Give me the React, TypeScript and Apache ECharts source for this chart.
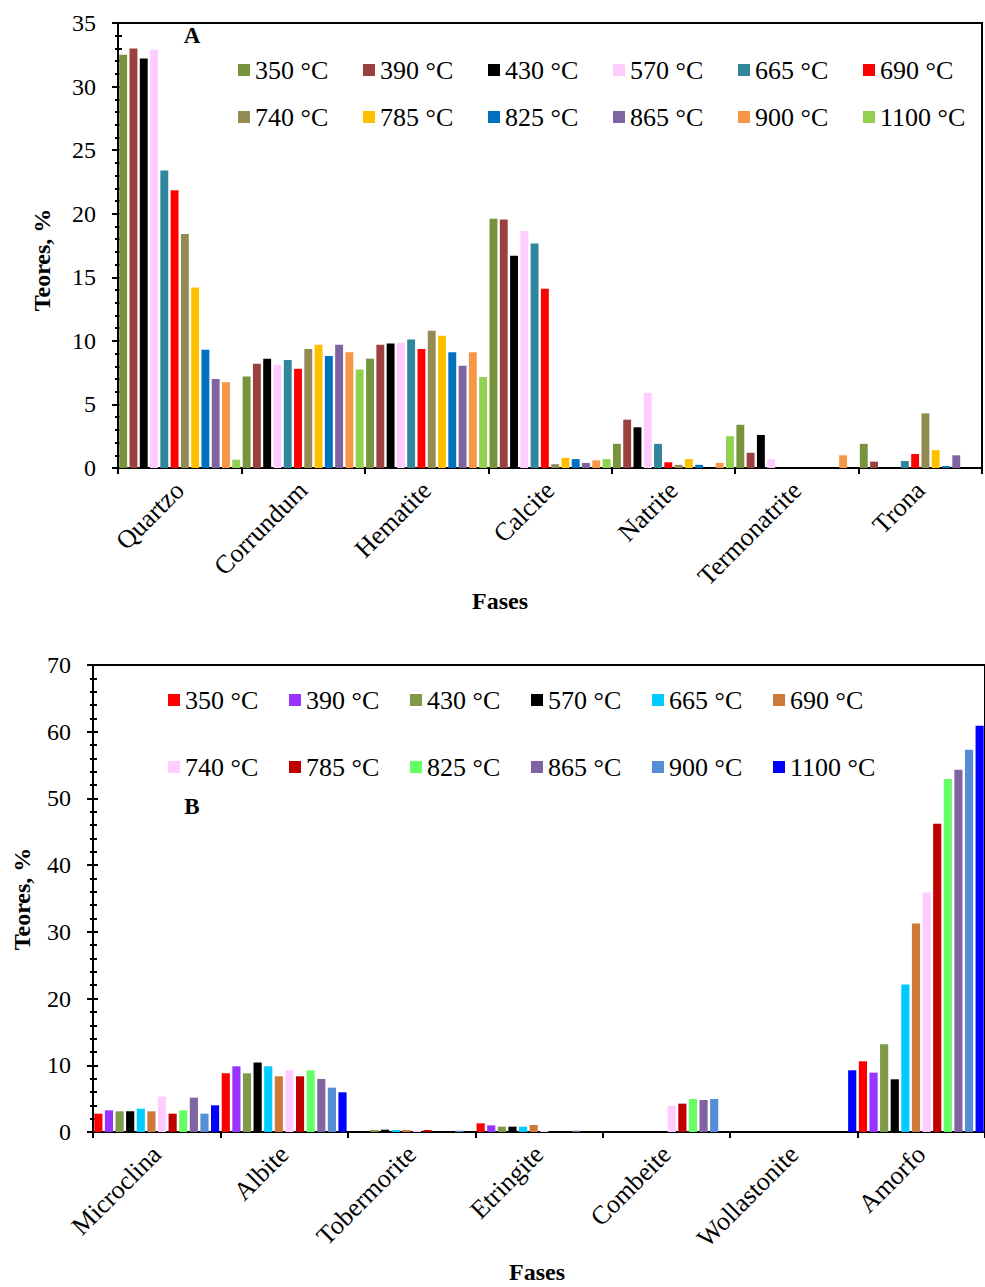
import React, { useEffect, useRef } from "react";
import * as echarts from "echarts";

// ---------- Chart A data ----------
const categoriesA = ["Quartzo", "Corrundum", "Hematite", "Calcite", "Natrite", "Termonatrite", "Trona"];
const seriesNamesA = ["350 °C", "390 °C", "430 °C", "570 °C", "665 °C", "690 °C", "740 °C", "785 °C", "825 °C", "865 °C", "900 °C", "1100 °C"];
const colorsA = ["#77933C", "#9B403E", "#000000", "#FFCCFF", "#31859C", "#FF0000", "#948A54", "#FFC000", "#0070C0", "#8064A2", "#F79646", "#92D050"];
const a350 = [32.5, 7.2, 8.6, 19.6, 1.9, 3.4, 1.9];
const a390 = [33.0, 8.2, 9.7, 19.55, 3.8, 1.2, 0.5];
const a430 = [32.2, 8.6, 9.8, 16.7, 3.2, 2.6, 0];
const a570 = [32.9, 8.1, 9.85, 18.65, 5.9, 0.7, 0];
const a665 = [23.4, 8.5, 10.1, 17.65, 1.9, 0, 0.55];
const a690 = [21.85, 7.8, 9.35, 14.1, 0.45, 0, 1.1];
const a740 = [18.4, 9.35, 10.8, 0.3, 0.25, 0, 4.3];
const a785 = [14.2, 9.7, 10.4, 0.8, 0.7, 0, 1.4];
const a825 = [9.3, 8.8, 9.1, 0.7, 0.25, 0, 0.15];
const a865 = [7.0, 9.7, 8.05, 0.4, 0, 0, 1.0];
const a900 = [6.75, 9.1, 9.1, 0.6, 0.4, 1.0, 0];
const a1100 = [0.65, 7.75, 7.15, 0.7, 2.5, 0, 0];
const valuesA = [a350, a390, a430, a570, a665, a690, a740, a785, a825, a865, a900, a1100];

// ---------- Chart B data ----------
const categoriesB = ["Microclina", "Albite", "Tobermorite", "Etringite", "Combeite", "Wollastonite", "Amorfo"];
const seriesNamesB = ["350 °C", "390 °C", "430 °C", "570 °C", "665 °C", "690 °C", "740 °C", "785 °C", "825 °C", "865 °C", "900 °C", "1100 °C"];
const colorsB = ["#FF0000", "#9933FF", "#7F9A48", "#000000", "#00CCFF", "#CC7A3A", "#FFCCFF", "#C00000", "#66FF66", "#8064A2", "#558ED5", "#0000FF"];
const b350 = [2.75, 8.8, 0, 1.3, 0, 0, 10.6];
const b390 = [3.25, 9.85, 0, 1.0, 0, 0, 8.9];
const b430 = [3.1, 8.8, 0.3, 0.8, 0, 0, 13.15];
const b570 = [3.1, 10.4, 0.35, 0.8, 0, 0, 7.9];
const b665 = [3.5, 9.85, 0.3, 0.8, 0, 0, 22.1];
const b690 = [3.1, 8.35, 0.3, 1.05, 0, 0, 31.25];
const b740 = [5.3, 9.25, 0.2, 0.2, 3.9, 0, 35.9];
const b785 = [2.75, 8.35, 0.3, 0, 4.25, 0, 46.2];
const b825 = [3.25, 9.25, 0, 0, 4.95, 0, 52.9];
const b865 = [5.15, 7.95, 0, 0.2, 4.8, 0, 54.3];
const b900 = [2.75, 6.65, 0.2, 0, 4.95, 0, 57.3];
const b1100 = [4.0, 5.95, 0, 0, 0, 9.25, 60.9];
const valuesB = [b350, b390, b430, b570, b665, b690, b740, b785, b825, b865, b900, b1100];

const FONT = '"Liberation Serif", "Times New Roman", serif';

function buildOption(cfg: {
  categories: string[];
  names: string[];
  colors: string[];
  values: number[][];
  grid: any;
  yMax: number;
  yInterval: number;
  legendLeft: number;
  legendTops: number[];
  textW: number;
  letter: string;
  letterPos: number[];
  yNamePos: number[];
  xNamePos: number[];
}) {
  const axisLineStyle = { color: "#000", width: 2 };
  const yCommon = {
    type: "value",
    min: 0,
    max: cfg.yMax,
    interval: cfg.yInterval,
    splitLine: { show: false },
    position: "left",
  };
  return {
    animation: false,
    backgroundColor: "#fff",
    grid: { ...cfg.grid, show: true, borderColor: "#000", borderWidth: 2, backgroundColor: "transparent" },
    legend: [0, 1].map((r) => ({
      data: cfg.names.slice(r * 6, r * 6 + 6),
      left: cfg.legendLeft,
      top: cfg.legendTops[r],
      padding: 0,
      orient: "horizontal",
      icon: "rect",
      itemWidth: 12,
      itemHeight: 12,
      itemGap: 8,
      selectedMode: false,
      textStyle: {
        fontFamily: FONT,
        fontSize: 26,
        color: "#000",
        width: cfg.textW,
        lineHeight: 26,
        padding: [0, 0, 0, 0],
      },
    })),
    xAxis: {
      type: "category",
      data: cfg.categories,
      axisLine: { show: true, lineStyle: axisLineStyle },
      axisTick: { show: true, length: 6, lineStyle: { color: "#000", width: 2 } },
      axisLabel: {
        interval: 0,
        rotate: 45,
        margin: 18,
        fontFamily: FONT,
        fontSize: 26,
        color: "#000",
      },
      splitLine: { show: false },
    },
    yAxis: [
      {
        ...yCommon,
        axisLine: { show: true, lineStyle: axisLineStyle },
        axisTick: { show: true, inside: false, length: 6, lineStyle: { color: "#000", width: 2 } },
        minorTick: { show: true, splitNumber: 5, length: 3, lineStyle: { color: "#000", width: 2 } },
        axisLabel: { margin: 22, fontFamily: FONT, fontSize: 24, color: "#000" },
      },
      {
        ...yCommon,
        axisLine: { show: false },
        axisTick: { show: true, inside: true, length: 5, lineStyle: { color: "#000", width: 2 } },
        minorTick: { show: true, splitNumber: 5, length: 4, lineStyle: { color: "#000", width: 2 } },
        axisLabel: { show: false },
      },
    ],
    series: cfg.names.map((n, i) => ({
      type: "bar",
      name: n,
      data: cfg.values[i],
      yAxisIndex: 0,
      barCategoryGap: "2%",
      barGap: "30%",
      itemStyle: { color: cfg.colors[i] },
    })),
    graphic: [
      {
        type: "text",
        x: cfg.letterPos[0],
        y: cfg.letterPos[1],
        style: { text: cfg.letter, fontFamily: FONT, fontSize: 23, fontWeight: "bold", fill: "#000", align: "center", verticalAlign: "middle" },
      },
      {
        type: "text",
        x: cfg.yNamePos[0],
        y: cfg.yNamePos[1],
        rotation: Math.PI / 2,
        style: { text: "Teores, %", fontFamily: FONT, fontSize: 24, fontWeight: "bold", fill: "#000", align: "center", verticalAlign: "middle" },
      },
      {
        type: "text",
        x: cfg.xNamePos[0],
        y: cfg.xNamePos[1],
        style: { text: "Fases", fontFamily: FONT, fontSize: 24, fontWeight: "bold", fill: "#000", align: "center", verticalAlign: "middle" },
      },
    ],
  };
}

export default function App() {
  const refA = useRef<HTMLDivElement>(null);
  const refB = useRef<HTMLDivElement>(null);

  useEffect(() => {
    const chartA = echarts.init(refA.current!, undefined, { renderer: "svg" });
    const chartB = echarts.init(refB.current!, undefined, { renderer: "svg" });
    chartA.setOption(
      buildOption({
        categories: categoriesA,
        names: seriesNamesA,
        colors: colorsA,
        values: valuesA,
        grid: { left: 118, top: 23, right: 3, bottom: 172 },
        yMax: 35,
        yInterval: 5,
        legendLeft: 238,
        legendTops: [57, 104],
        textW: 100,
        letter: "A",
        letterPos: [192, 35],
        yNamePos: [42, 260],
        xNamePos: [500, 601],
      }) as any
    );
    chartB.setOption(
      buildOption({
        categories: categoriesB,
        names: seriesNamesB,
        colors: colorsB,
        values: valuesB,
        grid: { left: 93, top: 25, right: -6, bottom: 155 },
        yMax: 70,
        yInterval: 10,
        legendLeft: 168,
        legendTops: [47, 114],
        textW: 96,
        letter: "B",
        letterPos: [192, 166],
        yNamePos: [22, 259],
        xNamePos: [537, 632],
      }) as any
    );
    return () => {
      chartA.dispose();
      chartB.dispose();
    };
  }, []);

  return (
    <div style={{ position: "absolute", left: 0, top: 0, width: 985, height: 1287, background: "#fff", overflow: "hidden" }}>
      <div ref={refA} style={{ position: "absolute", left: 0, top: 0, width: 985, height: 640 }} />
      <div ref={refB} style={{ position: "absolute", left: 0, top: 640, width: 985, height: 647 }} />
    </div>
  );
}
